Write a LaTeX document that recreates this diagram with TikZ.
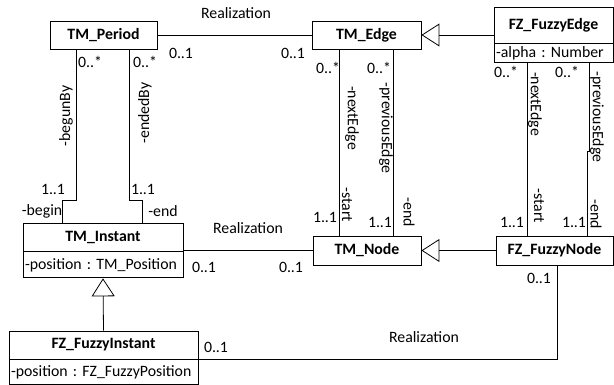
\documentclass[tikz,border=0pt]{standalone}
\usepackage{fontspec}
\setmainfont{Carlito}
\usetikzlibrary{arrows.meta}
\frenchspacing
\begin{document}
\begin{tikzpicture}[x=1pt,y=-1pt, font=\fontsize{15.8}{18}\selectfont,
  cls/.style={draw, line width=0.9pt, inner sep=0pt, font=\fontsize{15.8}{18}\selectfont\bfseries},
  attr/.style={draw, line width=0.9pt, inner ysep=0pt, inner xsep=2pt, anchor=north, align=left},
  lbl/.style={inner sep=0pt},
  conn/.style={line width=0.8pt},
  gen/.style={line width=0.8pt, -{Triangle[open, length=18pt, width=23pt]}},
]
\useasboundingbox (0,0) rectangle (614,385);
% classes
\node[cls, minimum width=107pt, minimum height=28pt] (period) at (103.5,35) {TM\_Period};
\node[cls, minimum width=109pt, minimum height=28pt] (edge) at (366.5,35) {TM\_Edge};
\node[cls, minimum width=119pt, minimum height=36pt] (fzedge) at (553.5,25) {FZ\_FuzzyEdge};
\node[attr, text width=115pt, minimum height=19pt] (fzedgeattr) at (fzedge.south) {-alpha : Number};
\node[cls, minimum width=160pt, minimum height=28pt] (instant) at (103,237) {TM\_Instant};
\node[attr, text width=156pt, minimum height=26pt] (instantattr) at (instant.south) {-position : TM\_Position};
\node[cls, minimum width=108pt, minimum height=29pt] (tmnode) at (367,250.5) {TM\_Node};
\node[cls, minimum width=117pt, minimum height=29pt] (fznode) at (554.5,250.5) {FZ\_FuzzyNode};
\node[cls, minimum width=189pt, minimum height=28pt] (fzinst) at (103.5,345) {FZ\_FuzzyInstant};
\node[attr, text width=185pt, minimum height=25pt] (fzinstattr) at (fzinst.south) {-position : FZ\_FuzzyPosition};
% connectors
\draw[conn] (period) -- (edge);
\draw[gen] (fzedge.west |- edge.east) -- (edge.east);
\draw[conn] (tmnode.west -| instant.east) -- (tmnode.west);
\draw[gen] (fznode.west) -- (tmnode.east);
\draw[gen] (fzinst.north) -- (instantattr.south);
\draw[conn] ([xshift=2.5pt]fznode.south) |- (fzinst.south east);
\draw[conn] ([xshift=27pt]period.south west) -- ++(0,151) -| ([xshift=40pt]instant.north west);
\draw[conn] ([xshift=80pt]period.south west) -- ++(0,151) -| ([xshift=120pt]instant.north west);
\coordinate (e1) at ([xshift=28pt]edge.south west);
\coordinate (e2) at ([xshift=82pt]edge.south west);
\draw[conn] (e1) -- (e1 |- tmnode.north);
\draw[conn] (e2) -- (e2 |- tmnode.north);
\coordinate (f1) at ([xshift=34pt]fzedgeattr.south west);
\coordinate (f2) at ([xshift=96pt]fzedgeattr.south west);
\draw[conn] (f1) -- (f1 |- fznode.north);
\draw[conn] (f2) -- ++(0,88) -| ([xshift=92pt]fznode.north west);
% labels
\node[lbl] (r1) at (236,13) {Realization};
\node[lbl] (m1) at (181,53) {0..1};
\node[lbl] (m2) at (293,53) {0..1};
\node[lbl] (m3) at (90,62) {0..*};
\node[lbl] (m4) at (145,62) {0..*};
\node[lbl, rotate=90] (rb1) at (66,116) {-begunBy};
\node[lbl, rotate=90] (rb2) at (145,113) {-endedBy};
\node[lbl] (m5) at (53,189) {1..1};
\node[lbl] (m6) at (143,189) {1..1};
\node[lbl] (rb3) at (42,211) {-begin};
\node[lbl] (rb4) at (163,211) {-end};
\node[lbl] (r2) at (248,228) {Realization};
\node[lbl] (m7) at (204,267) {0..1};
\node[lbl] (m8) at (291,267) {0..1};
\node[lbl] (m9) at (328,68) {0..*};
\node[lbl] (m10) at (379,68) {0..*};
\node[lbl, rotate=-90] (re1) at (352,118) {-nextEdge};
\node[lbl, rotate=-90] (re2) at (386,128) {-previousEdge};
\node[lbl, rotate=-90] (re3) at (347,205) {-start};
\node[lbl] (m11) at (325,217) {1..1};
\node[lbl] (m12) at (380,222) {1..1};
\node[lbl, rotate=-90] (re4) at (409,212) {-end};
\node[lbl] (m13) at (506,72) {0..*};
\node[lbl] (m14) at (567,72) {0..*};
\node[lbl, rotate=-90] (re5) at (535,104) {-nextEdge};
\node[lbl, rotate=-90] (re6) at (597,117) {-previousEdge};
\node[lbl, rotate=-90] (re7) at (539,206) {-start};
\node[lbl] (m15) at (512,222) {1..1};
\node[lbl] (m16) at (574,222) {1..1};
\node[lbl, rotate=-90] (re8) at (596,214) {-end};
\node[lbl] (m17) at (539,278) {0..1};
\node[lbl] (r3) at (424,337) {Realization};
\node[lbl] (m18) at (216,347) {0..1};
\end{tikzpicture}
\end{document}
